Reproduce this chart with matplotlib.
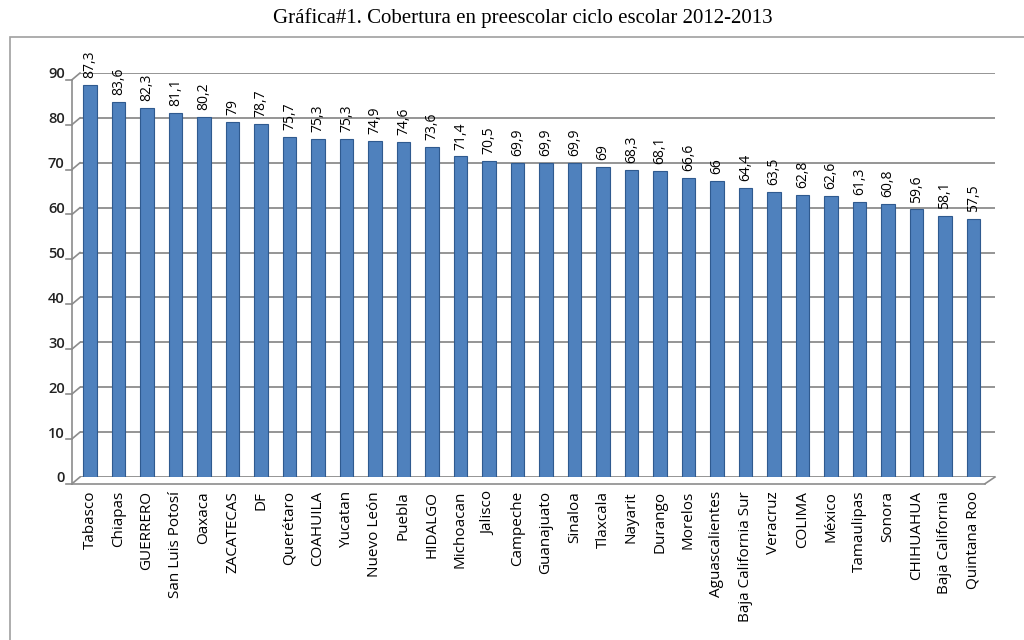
import matplotlib.pyplot as plt
from matplotlib.patches import Rectangle
from matplotlib.lines import Line2D

# Cobertura en preescolar por entidad, ciclo 2012-2013
estados = ['Tabasco', 'Chiapas', 'GUERRERO', 'San Luis Potosí', 'Oaxaca',
           'ZACATECAS', 'DF', 'Querétaro', 'COAHUILA', 'Yucatan',
           'Nuevo León', 'Puebla', 'HIDALGO', 'Michoacan', 'Jalisco',
           'Campeche', 'Guanajuato', 'Sinaloa', 'Tlaxcala', 'Nayarit',
           'Durango', 'Morelos', 'Aguascalientes', 'Baja California Sur',
           'Veracruz', 'COLIMA', 'México', 'Tamaulipas', 'Sonora',
           'CHIHUAHUA', 'Baja California', 'Quintana Roo']
cobertura = [87.3, 83.6, 82.3, 81.1, 80.2, 79, 78.7, 75.7, 75.3, 75.3,
             74.9, 74.6, 73.6, 71.4, 70.5, 69.9, 69.9, 69.9, 69, 68.3,
             68.1, 66.6, 66, 64.4, 63.5, 62.8, 62.6, 61.3, 60.8, 59.6,
             58.1, 57.5]
yticks = [0, 10, 20, 30, 40, 50, 60, 70, 80, 90]

fig = plt.figure(figsize=(10.24, 6.4), dpi=100)

# outer frame of the chart
fig.patches.append(Rectangle((10 / 1024, -0.01), 1.0, 1 - 37 / 640 + 0.01,
                             transform=fig.transFigure, fill=False,
                             edgecolor='#a0a0a0', linewidth=1.2))
fig.text(523 / 1024, 1 - 18 / 640,
         'Gráfica#1. Cobertura en preescolar ciclo escolar 2012-2013',
         ha='center', va='center', fontsize=15, family='Liberation Serif')

ax = fig.add_axes([80 / 1024, 1 - 477 / 640, 915 / 1024, (477 - 73) / 640])
n = len(estados)
x = list(range(n))
step = 28.5
ax.set_xlim((80 - 90) / step, (995 - 90) / step)
ax.set_ylim(0, 90)

# back wall gridlines
for v in yticks:
    ax.axhline(v, color='#8c8c8c', linewidth=1.3, zorder=0)

ax.bar(x, cobertura, width=0.46, color='#4f81bd', edgecolor='#2f5a8f',
       linewidth=0.8, zorder=2)

for xi, v in zip(x, cobertura):
    lbl = ('%g' % v).replace('.', ',')
    ax.annotate(lbl, (xi, v), xytext=(0, 5), textcoords='offset points',
                rotation=90, ha='center', va='bottom', fontsize=10,
                family='Open Sans', annotation_clip=False)

for s in ax.spines.values():
    s.set_visible(False)
ax.set_yticks(yticks)
ax.set_yticklabels([str(v) for v in yticks], fontsize=10.5, family='Open Sans',
                   fontweight='semibold', color='#222222')
ax.tick_params(axis='y', length=0, pad=11)
ax.set_xticks(x)
ax.set_xticklabels(estados, rotation=90, fontsize=11, family='Open Sans')
ax.tick_params(axis='x', length=0, pad=10)

# 3D side wall and floor edges
tr = ax.get_yaxis_transform()
dx = -8 / 915
for v in yticks:
    ax.add_line(Line2D([0, dx], [v, v - 1.5], transform=tr, color='#8c8c8c',
                       linewidth=1.2, clip_on=False))
    ax.add_line(Line2D([dx, dx - 6 / 915], [v - 1.5, v - 1.5], transform=tr,
                       color='#8c8c8c', linewidth=1.2, clip_on=False))
ax.add_line(Line2D([dx, dx], [-1.5, 88.5], transform=tr, color='#8c8c8c',
                   linewidth=1.2, clip_on=False))
ax.add_line(Line2D([dx, 1 - 10 / 915], [-1.5, -1.5], transform=tr,
                   color='#8c8c8c', linewidth=1.2, clip_on=False))
ax.add_line(Line2D([1 - 10 / 915, 1], [-1.5, 0], transform=tr,
                   color='#8c8c8c', linewidth=1.2, clip_on=False))

fig.savefig('out.png', dpi=100)
